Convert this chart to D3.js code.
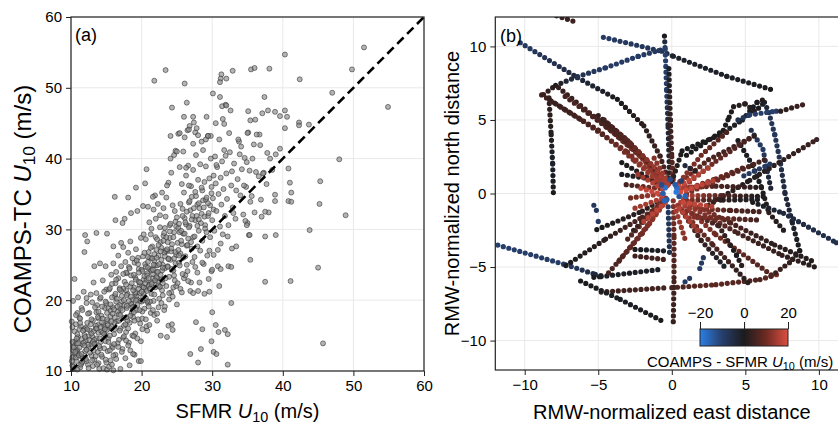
<!DOCTYPE html>
<html>
<head>
<meta charset="utf-8">
<script src="https://cdn.jsdelivr.net/npm/d3@7"></script>
<style>
body { margin: 0; background: #fff; }
svg { display: block; font-family: "Liberation Sans", Arial, Helvetica, sans-serif; }
</style>
</head>
<body>
<svg width="838" height="426"></svg>
<script>
// ---- data ----
const aTicks = [10, 20, 30, 40, 50, 60];
const bTicks = [-10, -5, 0, 5, 10];
const cbTicks = [-20, 0, 20];
const oneToOne = [10, 60];

// panel (a): SFMR U10 vs COAMPS-TC U10 (m/s)
const coreCluster = [
  [10.2,10.8],[10.4,12.1],[10.3,13.5],[10.6,14.2],[10.5,15.6],[10.8,11.4],[10.9,13.0],[11.1,12.4],[11.0,14.8],[11.3,10.5],
  [11.4,16.3],[11.2,17.5],[11.6,13.8],[11.7,11.9],[11.9,15.1],[12.0,12.8],[12.1,14.3],[12.3,16.8],[12.4,10.9],[12.5,13.4],
  [12.7,15.7],[12.6,18.2],[12.9,12.2],[13.0,14.9],[13.1,17.1],[13.3,11.6],[13.4,13.9],[13.5,16.0],[13.7,19.3],[13.8,12.7],
  [13.9,15.4],[14.0,10.3],[14.2,14.1],[14.3,17.8],[14.4,12.0],[14.6,16.5],[14.7,13.2],[14.8,18.9],[14.9,15.0],[15.0,11.2],
  [10.1,17.0],[10.3,19.9],[10.5,23.0],[10.7,16.6],[11.0,20.4],[11.5,18.9],[11.8,21.2],[12.2,19.6],[12.8,20.8],[13.2,22.5],
  [13.6,21.0],[14.1,20.2],[14.5,22.8],[14.9,24.8],[12.0,29.2],[12.3,28.3],[11.9,26.8],[13.6,29.5],[14.1,25.2],[13.3,24.8],
  [15.0,21.5],[10.2,11.9],[10.8,12.9],[11.5,14.5],[12.2,11.4],[12.9,13.8],[13.6,14.6],[14.3,15.6],[14.8,16.2],[11.2,15.9],
  [10.9,18.2],[13.1,10.7],[13.9,11.1],[14.6,10.4],[15.1,10.2],[15.4,10.6],[16.0,10.1],
  [15.2,12.8],[15.3,14.6],[15.5,16.1],[15.6,17.7],[15.8,13.5],[15.9,19.0],[16.1,15.2],[16.2,20.6],[16.3,12.3],[16.5,17.0],
  [16.6,18.4],[16.8,14.4],[16.9,21.7],[17.0,16.0],[17.2,19.8],[17.3,13.1],[17.5,17.5],[17.6,22.6],[17.8,15.5],[17.9,18.9],
  [18.0,20.9],[18.2,14.0],[18.3,16.8],[18.5,23.5],[18.6,19.4],[18.8,17.6],[18.9,21.8],[19.0,12.3],[19.1,15.3],[19.3,18.6],
  [19.4,20.1],[19.6,24.4],[19.7,22.1],[19.8,16.7],[20.0,19.8],[15.4,21.5],[15.7,23.6],[16.0,25.2],[16.4,24.0],[16.7,26.3],
  [17.1,24.8],[17.4,27.5],[17.7,25.4],[18.1,26.7],[18.4,28.3],[18.7,25.9],[19.2,27.2],[19.5,26.0],[19.9,28.8],[16.2,34.6],
  [16.3,31.3],[17.3,30.9],[17.6,31.5],[18.1,34.5],[18.5,32.3],[19.4,32.6],[19.2,35.9],[17.1,28.1],[15.1,29.4],[16.0,27.6],
  [15.8,10.9],[16.4,11.7],[17.0,10.3],[18.4,12.9],[17.7,11.8],[16.6,13.9],[15.1,15.8],[15.6,11.5],[16.1,16.8],[17.4,14.7],
  [18.0,17.1],[18.7,15.0],[19.5,17.3],[19.8,21.0],[15.3,18.9],[16.9,19.3],[17.8,21.4],[18.9,19.1],[19.1,23.2],[19.9,14.2],
  [18.3,10.8],[19.6,11.4],[18.8,12.4],[15.9,13.3],[17.5,16.4],[18.6,18.2],[19.3,20.6],[16.3,22.4],[17.9,23.8],[19.0,25.3],
  [20.1,17.4],[20.2,20.5],[20.3,22.9],[20.4,18.8],[20.5,25.1],[20.6,21.6],[20.7,16.3],[20.8,23.8],[20.9,19.6],[21.0,26.8],
  [21.1,22.2],[21.2,24.4],[21.3,18.2],[21.4,20.9],[21.5,27.6],[21.6,23.1],[21.7,19.9],[21.8,25.6],[21.9,21.8],[22.0,28.9],
  [22.1,24.0],[22.2,17.1],[22.3,22.6],[22.4,26.3],[22.5,20.2],[22.6,30.3],[22.7,23.6],[22.8,27.4],[22.9,21.4],[23.0,25.0],
  [23.1,29.1],[23.2,18.6],[23.3,24.5],[23.4,31.8],[23.5,22.0],[23.6,26.9],[23.7,28.2],[23.8,16.4],[23.9,23.3],[24.0,30.6],
  [24.1,25.7],[24.2,21.1],[24.3,27.9],[24.4,33.4],[24.5,24.2],[24.6,29.6],[24.7,22.8],[24.8,31.1],[24.9,26.4],[25.0,19.4],
  [20.3,29.3],[20.6,28.6],[20.9,33.2],[21.1,31.0],[21.4,30.1],[21.7,32.8],[21.9,34.8],[22.3,33.6],[22.6,32.0],[22.9,35.2],
  [23.1,33.0],[23.5,34.5],[23.8,36.6],[20.7,38.5],[20.5,36.5],[21.6,34.6],[20.2,33.3],[22.7,15.0],[23.6,14.8],[24.3,16.6],
  [24.4,15.8],[20.8,15.7],[21.8,17.9],[22.4,19.0],[23.0,20.7],[20.0,24.3],[21.2,26.0],[22.1,27.1],[23.4,27.0],[24.0,28.8],
  [24.6,23.5],[24.9,30.4],[20.4,20.0],[21.5,22.5],[22.8,25.7],[23.7,24.8],[24.2,26.9],[20.9,26.1],[22.0,31.5],[21.3,29.3],
  [24.7,32.6],[23.3,30.2],[20.1,22.0],[21.0,19.1],[22.5,21.9],[23.9,20.1],[24.5,21.8],[24.8,25.2],[22.2,23.1],[21.9,24.9],
  [20.6,24.7]
];
const lowWindCluster = [
  [10.1,11.4],[10.4,10.3],[10.6,12.5],[10.2,14.1],[10.9,15.2],[10.7,17.9],[11.2,13.3],[11.5,11.1],[11.3,16.8],[11.8,14.0],
  [11.6,18.6],[12.1,16.1],[12.4,13.7],[12.2,20.3],[12.7,12.6],[12.9,17.3],[13.2,15.6],[13.0,19.7],[13.5,12.1],[13.8,16.5],
  [13.6,18.3],[14.1,13.2],[14.4,19.1],[14.2,16.2],[14.7,21.2],[14.9,14.2],[15.2,17.0],[15.0,19.6],[15.5,15.0],[15.8,22.3],
  [15.6,18.5],[16.1,13.8],[16.4,19.8],[16.2,17.6],[16.7,23.1],[16.9,15.7],[17.2,20.6],[17.0,18.8],[17.5,14.9],[17.8,23.9],
  [17.6,19.3],[18.1,16.0],[18.4,21.9],[18.2,24.7],[18.7,20.1],[18.9,18.3],[19.2,22.9],[19.0,17.1],[19.5,25.1],[19.8,19.9],
  [19.6,22.6],[20.1,18.4],[20.4,23.4],[20.2,26.2],[20.7,21.3],[20.9,24.6],[21.2,19.8],[21.0,22.0],[21.5,25.9],[21.8,20.8],
  [21.6,23.7],[22.1,26.0],[22.4,22.1],[22.2,24.9],[22.7,28.2],[22.9,24.2],[23.2,26.7],[23.0,22.4],[23.5,28.9],[23.8,25.9],
  [10.3,12.9],[10.8,13.9],[11.4,12.1],[11.9,15.9],[12.5,14.9],[13.3,14.4],[13.9,17.4],[14.5,15.4],[15.1,18.2],[15.7,16.3],
  [16.3,20.9],[16.8,18.0],[17.4,21.6],[17.9,17.6],[18.5,19.5],[19.1,20.9],[19.7,18.6],[20.3,21.8],[20.8,19.9],[21.4,24.2]
];
const diagonalBand = [
  [10.3,10.6],[10.7,11.9],[10.4,13.3],[11.1,12.2],[11.4,10.9],[11.9,13.6],[12.1,11.7],[12.6,14.4],[12.3,15.9],[13.2,12.9],
  [13.5,16.4],[13.1,14.1],[14.0,13.5],[14.4,16.9],[13.8,17.6],[14.7,15.2],[15.3,14.1],[15.1,17.3],[15.6,19.4],[16.2,15.9],
  [15.9,18.1],[16.5,20.2],[16.8,17.1],[17.3,18.6],[17.1,21.3],[17.7,16.6],[18.2,19.9],[17.9,20.7],[18.6,22.4],[18.4,17.8],
  [19.1,21.1],[19.4,19.3],[18.9,23.6],[19.8,22.5],[20.3,20.9],[20.1,24.1],[20.7,22.8],[21.2,21.6],[20.9,25.4],[21.6,24.3],
  [22.1,23.2],[21.8,26.5],[22.5,25.1],[22.9,22.9],[22.4,27.8],[23.3,26.2],[23.7,24.7],[23.1,28.4],[24.2,27.3],[24.6,25.9],
  [24.0,29.7],[25.1,28.1],[25.5,26.6],[25.2,30.2],[25.9,29.4],[26.4,27.7],[26.1,31.6],[26.8,30.5],[27.3,28.9],[26.9,32.7],
  [27.6,31.3],[28.1,29.8],[27.9,33.5],[28.5,32.2],[29.0,30.6],[28.7,34.1],[29.4,31.9],[29.7,33.4],[30.2,32.8],[29.9,36.0],
  [10.2,16.2],[10.8,14.6],[11.3,17.4],[11.7,15.7],[12.4,18.1],[12.8,16.6],[13.4,19.0],[13.9,18.4],[14.2,20.4],[14.9,19.8],
  [15.5,21.7],[15.8,20.4],[16.4,22.9],[16.9,21.5],[17.4,23.7],[17.8,22.2],[18.3,24.5],[18.8,21.4],[19.3,25.6],[19.6,23.9],
  [20.4,26.7],[20.8,23.5],[21.3,27.4],[21.7,25.0],[22.2,28.6],[22.7,26.9],[23.2,29.5],[23.6,27.2],[24.1,30.8],[24.5,28.9],
  [25.0,31.7],[25.4,29.6],[25.8,32.9],[26.3,30.7],[26.7,33.8],[27.2,31.9],[27.7,34.7],[28.2,33.0],[28.6,35.5],[29.1,34.2],
  [10.6,12.7],[11.0,13.9],[11.5,12.4],[12.0,14.8],[12.2,13.0],[12.9,15.3],[13.3,13.8],[13.6,16.0],[14.1,14.6],[14.5,17.4],
  [14.8,15.9],[15.2,16.5],[15.7,17.0],[16.1,18.7],[16.6,19.1],[17.0,17.9],[17.5,20.0],[17.9,19.2],[18.5,20.5],[18.7,19.0],
  [19.2,20.0],[19.6,21.6],[20.0,21.2],[20.5,22.4],[20.6,20.3],[21.0,23.1],[21.4,22.3],[21.9,22.8],[22.3,24.0],[22.6,21.9],
  [23.0,24.6],[23.4,23.1],[23.8,25.8],[24.3,24.4],[24.8,26.8],[25.3,25.3],[25.7,27.9],[26.2,26.2],[26.6,28.7],[27.1,27.3],
  [10.9,10.2],[11.6,11.3],[12.5,10.4],[13.0,11.5],[13.7,10.9],[14.3,12.3],[14.9,11.6],[15.5,12.9],[16.0,12.2],[16.7,13.4],
  [17.2,12.7],[17.8,14.3],[18.1,13.6],[18.9,14.9],[19.4,14.6],[20.1,15.9],[20.6,17.3],[21.1,16.5],[21.6,18.6],[22.2,18.1],
  [22.8,19.6],[23.3,19.1],[23.9,21.0],[24.4,20.5],[24.9,22.0],[25.5,21.6],[26.0,23.1],[26.5,24.1],[27.0,22.5],[27.6,24.7]
];
const upperArm = [
  [25.1,22.4],[25.2,27.1],[25.3,30.8],[25.4,24.9],[25.5,33.6],[25.6,28.4],[25.7,21.1],[25.8,31.9],[25.9,26.0],[26.0,35.2],
  [26.1,29.4],[26.2,23.5],[26.3,37.6],[26.4,32.5],[26.5,27.8],[26.6,39.0],[26.7,30.3],[26.8,34.0],[26.9,21.3],[27.0,36.1],
  [27.1,31.4],[27.2,25.4],[27.3,38.4],[27.4,33.0],[27.5,29.0],[27.6,35.3],[27.7,40.5],[27.8,31.9],[27.9,27.6],[28.0,37.0],
  [28.1,33.7],[28.2,22.5],[28.3,39.2],[28.4,30.9],[28.5,35.9],[28.6,28.4],[28.7,41.2],[28.8,33.1],[28.9,36.7],[29.0,30.1],
  [29.1,38.9],[29.2,34.5],[29.3,26.3],[29.4,43.2],[29.5,32.3],[29.6,37.2],[29.7,28.9],[29.8,40.0],[29.9,35.1],[30.0,31.3],
  [25.4,38.8],[25.9,41.0],[26.3,38.7],[24.6,40.5],[24.8,41.1],[25.0,41.0],[24.2,38.0],[23.6,36.2],[24.1,40.0],[26.1,43.0],
  [27.6,43.7],[28.5,42.4],[25.2,43.5],[26.5,44.0],[27.3,42.1],[26.0,45.9],[27.8,44.3],[25.7,36.4],[26.7,36.2],[27.1,34.6],
  [28.1,31.4],[28.9,31.8],[29.4,33.7],[26.2,31.0],[25.6,29.8],[27.0,28.2],[28.3,27.0],[29.2,29.6],[27.5,26.1],[26.4,25.0],
  [25.3,26.3],[28.8,25.1],[29.6,27.0],[25.8,23.7],[27.9,23.9],[26.6,22.7],[28.0,21.3],[29.5,23.0],[27.3,21.0],[27.9,30.5],
  [30.1,34.4],[30.2,37.6],[30.3,29.8],[30.4,40.3],[30.5,36.5],[30.6,32.6],[30.7,38.8],[30.8,27.1],[30.9,35.0],[31.0,42.7],
  [31.1,30.4],[31.2,37.3],[31.3,33.5],[31.4,39.6],[31.5,29.3],[31.6,35.7],[31.7,41.2],[31.8,31.9],[32.0,37.9],[32.1,34.3],
  [32.3,30.6],[32.5,40.9],[32.7,36.2],[32.9,33.1],[33.1,39.3],[33.3,31.5],[33.6,37.1],[33.8,42.4],[34.0,34.8],[34.2,38.5],
  [34.4,32.1],[34.6,40.1],[34.8,36.0],[35.0,30.9],[35.3,38.3],[35.6,34.7],[35.9,42.0],[36.2,38.1],[30.5,45.0],[31.5,45.6],
  [31.9,47.6],[32.4,43.6],[33.7,42.7],[34.1,41.7],[35.1,43.7],[30.2,26.4],[31.2,28.0],[32.2,29.0],[32.8,27.3],[33.4,27.6],
  [34.7,31.2],[34.9,30.6],[32.3,24.8],[31.0,22.0],[35.2,29.2],[33.0,32.3],[30.8,24.8],[29.9,24.1],[29.6,21.2],[28.9,20.9],
  [29.1,42.7],[29.8,43.2],[30.6,39.1],[31.9,40.4],[32.8,38.2],[33.4,35.5],[34.5,36.2],[35.4,33.9],[36.0,32.4],[35.7,40.0],
  [36.8,41.9],[37.3,38.0],[37.8,40.8],[38.2,40.0],[37.2,37.9],[36.6,37.5],[37.7,36.4],[38.0,32.4],[36.9,34.2],[39.0,40.6],
  [38.5,38.4],[39.6,41.4],[36.7,43.4],[34.9,39.5],[33.9,40.6]
];
const outliers = [
  [51.5,55.7],[40.3,54.7],[23.4,52.5],[21.8,51.0],[26.1,50.6],[31.3,51.9],[31.2,51.3],[32.0,51.3],[31.1,50.8],[32.9,52.4],
  [35.5,52.6],[36.0,52.8],[38.1,52.7],[42.4,51.2],[49.8,52.6],[47.0,49.3],[54.9,47.3],[30.1,49.2],[31.1,48.7],[24.3,47.2],
  [26.4,47.9],[37.4,48.7],[31.4,47.4],[32.0,47.5],[32.6,46.8],[35.1,46.7],[35.4,45.4],[36.1,45.5],[37.1,46.4],[37.9,46.8],
  [38.9,46.6],[39.6,46.0],[40.3,46.8],[40.6,45.9],[40.3,44.3],[42.3,45.1],[42.3,44.7],[43.7,44.8],[27.3,45.9],[29.2,45.9],
  [27.4,45.1],[26.8,44.6],[26.7,44.1],[29.4,43.2],[28.0,43.3],[24.1,43.2],[25.4,43.6],[36.3,43.4],[35.0,43.6],[31.7,44.9],
  [48.0,39.9],[45.3,36.8],[45.2,33.6],[48.9,32.0],[43.8,29.9],[45.0,24.6],[41.1,22.7],[37.5,22.6],[45.7,13.9],[40.8,38.6],
  [41.0,36.6],[38.9,34.9],[38.9,34.0],[40.8,34.0],[41.2,35.2],[41.2,33.9],[37.5,32.5],[37.0,31.8],[37.5,29.0],[39.0,29.2],
  [35.3,29.2],[35.4,25.7],[32.7,24.7],[32.7,19.6],[28.6,25.3],[31.2,24.4],[30.0,24.3],[30.0,18.3],[27.7,16.9],[28.6,15.9],
  [30.5,16.5],[30.9,15.5],[31.8,15.8],[32.2,15.2],[29.9,14.2],[30.2,12.7],[30.6,12.4],[26.9,12.4],[28.4,13.1],[28.0,11.2],
  [32.2,10.9],[19.9,11.4]
];

// panel (b): flight legs in RMW-normalized coordinates [east, north, COAMPS - SFMR]
const flightLegs = [
  [[-12.2,-3.4,-10],[-7.2,-4.85,-9],[-5.2,-5.5,-4],[-4.5,-5.65,0]],
  [[-5.3,-5.7,0],[-4.8,-5.65,-1],[-0.7,-5.15,-1]],
  [[-4.8,-6.7,4],[-0.2,-6.4,5]],
  [[0,-6.4,6],[3,-6.2,8],[6,-5.85,6],[7.2,-5.5,11]],
  [[-6.2,-5.95,0],[-3.5,-7.2,-1],[-0.5,-8.75,0]],
  [[-2.5,-3.8,0],[-0.5,-3.9,-1]],
  [[-2.5,-4.25,4],[-0.4,-4.5,5]],
  [[-10.3,10.25,-9],[-6.4,7.87,-4],[-3.7,6.4,0],[-1.9,4.6,2],[-0.8,2.55,4],[-0.25,0.95,7]],
  [[-8.2,12.2,3],[-6.5,11.65,4]],
  [[-4.65,10.62,-9],[-0.68,9.67,-7],[0.11,9.33,-2],[3.74,7.97,-1],[7.0,7.0,0]],
  [[-8.72,6.73,4],[-7.9,7.35,1],[-6.4,7.95,-6],[-4.5,8.55,-9],[-2.27,9.33,-9],[-0.68,9.78,-8]],
  [[-8.35,6.5,3],[-8.2,4,1],[-8.1,2,-2],[-8.05,0,0]],
  [[-0.5,10.7,0],[-0.45,9.8,-10],[-0.35,7,-9],[-0.25,4.5,-4],[-0.15,1,2]],
  [[-0.2,8.5,-1],[-0.1,5,3],[0,2.5,6],[0.1,0.8,10]],
  [[0.1,-0.5,12],[0.15,-3,8],[0.15,-6,5],[0.1,-8.8,3]],
  [[-0.25,-0.9,-8],[-0.15,-4.1,-6]],
  [[-5.3,-0.8,-8],[-5.1,-1.2,-8]],
  [[-5.0,-1.9,-9],[-5.2,-2.2,-8]],
  [[-5.1,-2.45,0],[-2,-1.2,2],[-0.5,-0.3,4]],
  [[-7.2,-4.9,0],[-4.5,-3.1,2],[-2,-1.6,6],[-0.4,-0.6,10]],
  [[-4.3,-5.4,5],[-2,-2.7,10],[-0.4,-0.5,16]],
  [[-3.6,-4.6,6],[-1.5,-2,12],[-0.3,-0.3,16]],
  [[-3.0,-3.1,6],[-0.5,-0.4,14]],
  [[-2.6,-2.5,3],[-0.3,-0.2,12]],
  [[-3.4,2.1,0],[-0.6,0.5,4]],
  [[-3.4,1.3,-1],[-1.5,1.0,2]],
  [[-3.1,0.6,5],[-0.5,0.3,12]],
  [[-2.8,-0.3,10],[-0.5,0,16]],
  [[-2.5,-1.0,14],[-0.6,-0.3,16]],
  [[-8.85,6.7,4],[-6,4.9,6],[-3,2.8,10],[-0.6,0.6,16]],
  [[-8.3,6.35,3],[-5,4.3,6],[-2.5,2.2,12],[-0.5,0.4,16]],
  [[-7.7,7.2,3],[-5,5.0,4],[-2.5,2.9,10],[-0.4,0.7,14]],
  [[-7.25,6.6,5],[-4.5,4.6,7],[-2,2.4,12],[-0.5,0.5,15]],
  [[-6.0,5.7,5],[-3.5,3.8,6],[-1.2,1.7,12],[-0.3,0.7,10]],
  [[-5.0,5.3,3],[-3,3.6,5],[-1,1.5,8],[-0.2,0.6,12]],
  [[-4.6,5.0,4],[-2.8,3.4,8],[-1.2,1.8,14],[-0.3,0.5,16]],
  [[1.0,2.6,0],[3.5,4.3,0],[3.9,5.2,0],[4.2,5.9,1],[5.0,6.1,2],[5.6,5.6,1],[5.9,5.8,0],[6.3,6.2,-1],[6.6,5.5,-6],
   [7.0,4.0,-8],[7.4,2.0,-6],[7.7,0.0,-4],[8.2,-2.0,-2],[8.7,-3.9,0],[8.0,-4.7,3],[6.5,-5.8,4]],
  [[0,0.8,3],[0.7,2.9,0],[3.3,4.0,1],[4.8,5.0,-1],[5.8,6.2,0],[6.3,6.4,2]],
  [[4.5,5.0,-6],[5.3,5.35,-9],[7.1,5.6,-10],[7.4,5.6,2],[8.95,6.05,4]],
  [[5.4,4.3,-6],[6.2,3.0,-9],[6.5,1.5,-5],[6.8,0,-2]],
  [[4.5,3.6,0],[5.5,1.9,-1],[6.1,0.4,0],[6.6,-1.3,2],[7.6,-2.5,1]],
  [[2.5,-0.8,3],[5.3,0.9,1],[9.85,3.67,4],[10.2,3.56,-14]],
  [[4.9,1.2,-8],[6.9,2.1,-9]],
  [[5.5,-0.6,0],[7.6,-1.35,-4],[11.2,-3.35,-6],[12.3,-3.8,-5]],
  [[0.8,-0.4,16],[4,-2.0,6],[7,-3.5,2],[9.8,-4.7,1]],
  [[0.9,-0.7,14],[4.5,-2.7,5],[7.5,-4.2,3],[10,-5.1,1]],
  [[0.6,-0.6,16],[3,-2.8,10],[7,-5.7,6]],
  [[0.4,-0.8,14],[2.8,-3.5,6],[5.4,-6.3,1]],
  [[0.5,-0.9,12],[2,-3.2,3],[3.6,-5.0,-2]],
  [[1.0,-1.2,12],[3.2,-2.2,4],[4.4,-4.2,0],[4.8,-5.0,2]],
  [[1.9,-5.1,-9],[2.2,-4.2,-8]],
  [[0.9,-6.0,-9],[1.3,-5.7,-8]],
  [[0.8,0.4,14],[3,0.5,6],[6.3,0.4,1]],
  [[1,-0.15,16],[3.5,-0.15,6],[6.4,-0.2,0]],
  [[1,-0.45,12],[3.5,-0.45,2],[6.2,-0.4,-1]],
  [[1.2,-1.0,14],[4,-1.15,6],[6.3,-1.25,5]],
  [[1.5,-1.6,12],[5.8,-1.8,5]],
  [[1,0.3,14],[3,1.0,10],[5.1,1.85,6]],
  [[1,0,12],[3.8,1.2,8],[6.3,2.3,4]],
  [[0.4,0.6,12],[2.5,2.3,6],[5.8,4.0,2]],
  [[0.6,0.3,16],[3,2.2,9],[5.5,3.9,4]],
  [[0.3,0.5,14],[2,2.6,10],[4,4.4,5]],
  [[-2.3,1.3,14],[-0.4,0.2,18]],
  [[-2.1,0.35,17],[-0.5,-0.1,19]],
  [[-1.9,-1.9,16],[-0.3,-0.5,18]],
  [[-1.2,2.4,12],[-0.2,0.6,16]],
  [[0.5,0.5,18],[2.6,1.8,15]],
  [[0.6,0.1,19],[2.9,0.9,16]],
  [[0.8,-0.6,18],[2.9,-0.9,16]],
  [[0.5,-1.0,17],[1.9,-2.7,14]],
  [[0.3,-1.2,15],[0.9,-3.1,12]],
  [[0.9,1.9,-4],[1.6,1.5,2]]
];
const eyePoints = [
  [-0.45,0.39,-18],[0.34,0.39,-17],[0.91,-0.18,-16],[-0.34,-0.41,-14],[0.23,0.61,-15],[-0.11,0.95,-12],[0.5,-0.2,-13],
  [-0.6,0.0,-15],[0.3,0.1,-19],[-0.5,-0.5,-16],[0.65,0.85,-10],[-0.7,0.6,-12]
];

// ---- layout ----
const svg = d3.select("svg");
const xA = d3.scaleLinear().domain([10, 60]).range([71, 424]);
const yA = d3.scaleLinear().domain([10, 60]).range([371, 17]);
const xB = d3.scaleLinear().domain([-12, 12]).range([495.3, 848.3]);
const yB = d3.scaleLinear().domain([-12, 12]).range([370, 17]);
const colour = d3.scaleLinear()
    .domain([-20, -10, 0, 10, 20])
    .range(["#2b7fe8", "#273f6c", "#1b1b1d", "#6d2a22", "#dd4f41"])
    .clamp(true);
const gridColour = "#e9e9e9";
const defs = svg.append("defs");

function grid(g, xs, ys, ticksX, ticksY) {
  g.selectAll(".gx").data(ticksX).enter().append("line")
      .attr("x1", d => xs(d)).attr("x2", d => xs(d))
      .attr("y1", ys.range()[0]).attr("y2", ys.range()[1])
      .attr("stroke", gridColour);
  g.selectAll(".gy").data(ticksY).enter().append("line")
      .attr("y1", d => ys(d)).attr("y2", d => ys(d))
      .attr("x1", xs.range()[0]).attr("x2", xs.range()[1])
      .attr("stroke", gridColour);
}

function axes(xs, ys, ticksX, ticksY) {
  const xg = svg.append("g")
      .attr("transform", "translate(0," + ys.range()[0] + ")")
      .call(d3.axisBottom(xs).tickValues(ticksX).tickSize(5).tickPadding(4));
  const yg = svg.append("g")
      .attr("transform", "translate(" + xs.range()[0] + ",0)")
      .call(d3.axisLeft(ys).tickValues(ticksY).tickSize(5).tickPadding(4));
  [xg, yg].forEach(g => {
    g.select(".domain").remove();
    g.selectAll("text").attr("font-size", 15).attr("font-family", null).attr("fill", "#000");
    g.selectAll("line").attr("stroke", "#222");
  });
  svg.append("rect")
      .attr("x", xs.range()[0]).attr("y", ys.range()[1])
      .attr("width", xs.range()[1] - xs.range()[0])
      .attr("height", ys.range()[0] - ys.range()[1])
      .attr("fill", "none").attr("stroke", "#222").attr("stroke-width", 1.2);
}

function uLabel(sel, before, after, drop) {
  sel.append("tspan").text(before);
  sel.append("tspan").attr("font-style", "italic").text("U");
  sel.append("tspan").attr("font-size", "0.72em").attr("dy", drop).text("10");
  sel.append("tspan").attr("dy", -drop).text(after);
}

// ---- panel (a) ----
grid(svg.append("g"), xA, yA, aTicks, aTicks);
svg.append("g").selectAll("circle")
    .data(coreCluster.concat(lowWindCluster, diagonalBand, upperArm, outliers))
    .enter().append("circle")
    .attr("cx", d => xA(d[0]))
    .attr("cy", d => yA(d[1]))
    .attr("r", 2.5)
    .attr("fill", "#8c8c8c").attr("fill-opacity", 0.65)
    .attr("stroke", "#2a2a2a").attr("stroke-opacity", 0.7).attr("stroke-width", 0.8);
svg.append("line")
    .attr("x1", xA(oneToOne[0])).attr("y1", yA(oneToOne[0]))
    .attr("x2", xA(oneToOne[1])).attr("y2", yA(oneToOne[1]))
    .attr("stroke", "#000").attr("stroke-width", 2.6).attr("stroke-dasharray", "9,5");
axes(xA, yA, aTicks, aTicks);
svg.append("text").attr("x", 75).attr("y", 41).attr("font-size", 18).text("(a)");
uLabel(svg.append("text")
    .attr("x", (xA.range()[0] + xA.range()[1]) / 2).attr("y", 418)
    .attr("text-anchor", "middle").attr("font-size", 20), "SFMR ", " (m/s)", 3.5);
uLabel(svg.append("text")
    .attr("transform", "translate(31,209) rotate(-90)")
    .attr("text-anchor", "middle").attr("font-size", 24), "COAMPS-TC ", " (m/s)", 4);

// ---- panel (b) ----
defs.append("clipPath").attr("id", "clipB").append("rect")
    .attr("x", xB.range()[0]).attr("y", yB.range()[1])
    .attr("width", xB.range()[1] - xB.range()[0])
    .attr("height", yB.range()[0] - yB.range()[1]);
grid(svg.append("g"), xB, yB, bTicks, bTicks);
const marks = svg.append("g").attr("clip-path", "url(#clipB)");
let gid = 0;
flightLegs.forEach(leg => {
  for (let i = 0; i < leg.length - 1; i++) {
    const a = leg[i], b = leg[i + 1];
    const id = "seg" + (gid++);
    const gr = defs.append("linearGradient").attr("id", id)
        .attr("gradientUnits", "userSpaceOnUse")
        .attr("x1", xB(a[0])).attr("y1", yB(a[1]))
        .attr("x2", xB(b[0])).attr("y2", yB(b[1]));
    gr.append("stop").attr("offset", 0).attr("stop-color", colour(a[2]));
    gr.append("stop").attr("offset", 1).attr("stop-color", colour(b[2]));
    marks.append("line")
        .attr("x1", xB(a[0])).attr("y1", yB(a[1]))
        .attr("x2", xB(b[0])).attr("y2", yB(b[1]))
        .attr("stroke", "url(#" + id + ")")
        .attr("stroke-width", 5.2)
        .attr("stroke-linecap", "round")
        .attr("stroke-dasharray", "0 5.7");
  }
});
marks.selectAll(".eye").data(eyePoints).enter().append("circle")
    .attr("cx", d => xB(d[0])).attr("cy", d => yB(d[1]))
    .attr("r", 2.8).attr("fill", d => colour(d[2]));
axes(xB, yB, bTicks, bTicks);
svg.append("text").attr("x", 500).attr("y", 42).attr("font-size", 18).text("(b)");
svg.append("text")
    .attr("x", xB(0)).attr("y", 419)
    .attr("text-anchor", "middle").attr("font-size", 20)
    .text("RMW-normalized east distance");
svg.append("text")
    .attr("transform", "translate(459," + yB(0) + ") rotate(-90)")
    .attr("text-anchor", "middle").attr("font-size", 20)
    .text("RMW-normalized north distance");

// colourbar
const xC = d3.scaleLinear().domain([-20, 20]).range([700, 788]);
const cbGrad = defs.append("linearGradient").attr("id", "cb");
d3.range(-20, 20.1, 5).forEach(v => {
  cbGrad.append("stop").attr("offset", (v + 20) / 40).attr("stop-color", colour(v));
});
svg.append("rect").attr("x", 700).attr("y", 329).attr("width", 88).attr("height", 17)
    .attr("fill", "url(#cb)").attr("stroke", "#222").attr("stroke-width", 1);
const cbAxis = svg.append("g").attr("transform", "translate(0,329)")
    .call(d3.axisTop(xC).tickValues(cbTicks).tickSize(7).tickPadding(4));
cbAxis.select(".domain").remove();
cbAxis.selectAll("text").attr("font-size", 15).attr("font-family", null).attr("fill", "#000");
cbAxis.selectAll("line").attr("stroke", "#222");
uLabel(svg.append("text").attr("x", 647).attr("y", 367).attr("font-size", 15),
    "COAMPS - SFMR ", " (m/s)", 3);
</script>
</body>
</html>
